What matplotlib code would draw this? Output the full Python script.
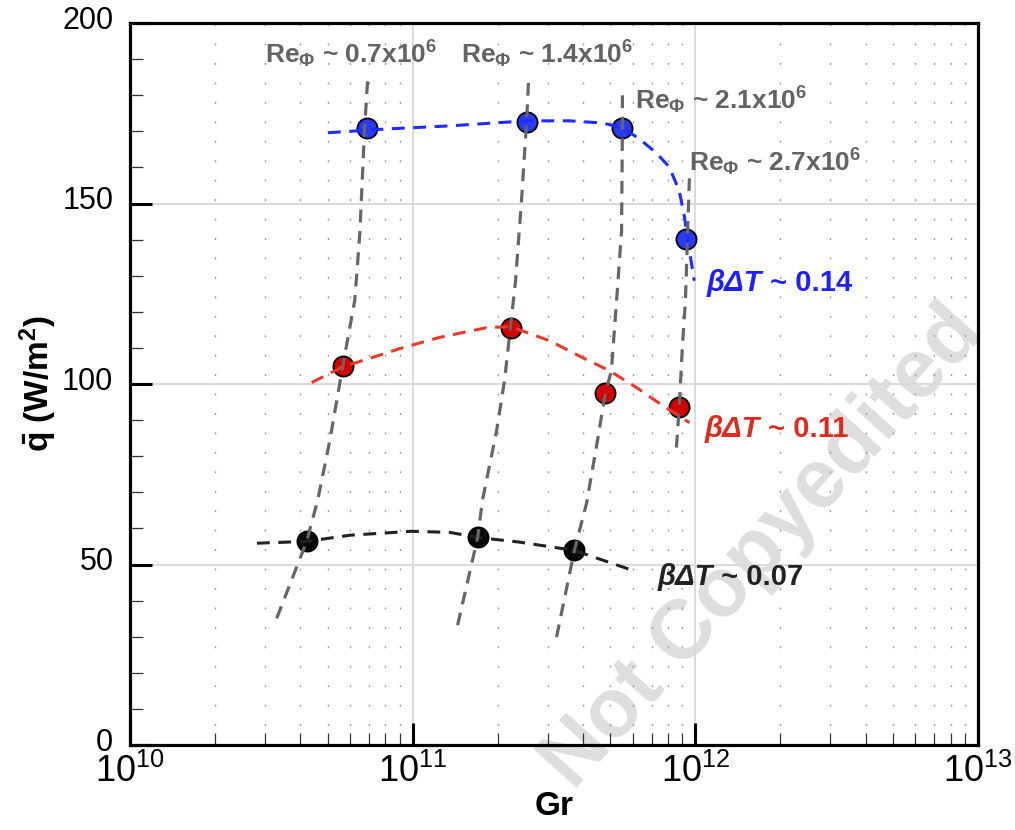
import numpy as np
import matplotlib
matplotlib.use('Agg')
import matplotlib.pyplot as plt
from matplotlib.ticker import LogLocator, MultipleLocator, FuncFormatter, NullFormatter
from matplotlib.transforms import ScaledTranslation

plt.rcParams['font.family'] = ['Liberation Sans', 'DejaVu Sans']
plt.rcParams['mathtext.fontset'] = 'custom'
plt.rcParams['mathtext.rm'] = 'Liberation Sans'
plt.rcParams['mathtext.it'] = 'Liberation Sans:italic'
plt.rcParams['mathtext.bf'] = 'Liberation Sans:bold'

# ---------------- data ----------------
# measured points (Gr, mean heat flux)
gr_blue = [6.87e10, 2.53e11, 5.52e11, 9.29e11]
q_blue = [170.9, 172.6, 171.0, 140.2]
gr_red = [5.66e10, 2.22e11, 4.81e11, 8.77e11]
q_red = [105.1, 115.6, 97.6, 93.5]
gr_black = [4.22e10, 1.70e11, 3.73e11]
q_black = [56.4, 57.5, 53.9]

# trend curves for constant beta*dT (log10 Gr, q)
fit_blue_lg = [10.700, 10.919, 11.131, 11.403, 11.555, 11.671, 11.742, 11.802,
               11.862, 11.908, 11.943, 11.962, 11.972, 11.986, 11.996]
fit_blue_q = [169.6, 170.7, 171.5, 172.9, 172.9, 172.3, 171.0, 167.9,
              164.0, 160.1, 153.5, 146.1, 140.2, 133.6, 128.6]
fit_red_lg = [10.643, 10.753, 10.848, 10.954, 11.095, 11.261, 11.346, 11.413,
              11.484, 11.601, 11.696, 11.792, 11.883, 11.979]
fit_red_q = [100.4, 104.8, 107.1, 109.8, 112.9, 115.6, 115.9, 114.0,
             112.0, 107.3, 103.7, 99.0, 94.1, 89.3]
fit_black_lg = [10.449, 10.625, 10.777, 10.996, 11.131, 11.230, 11.378, 11.572, 11.777]
fit_black_q = [55.9, 56.4, 58.1, 59.2, 58.9, 57.5, 56.2, 53.9, 48.4]

# constant Re_phi curves (log10 Gr, q)
re1_lg = [10.519, 10.625, 10.664, 10.707, 10.753, 10.795, 10.813, 10.830, 10.841]
re1_q = [35.1, 56.4, 67.8, 84.4, 105.1, 123.1, 141.6, 171.0, 184.5]
re2_lg = [11.159, 11.230, 11.247, 11.297, 11.325, 11.346, 11.364, 11.385, 11.403, 11.410]
re2_q = [33.2, 57.5, 67.8, 87.1, 101.0, 115.6, 128.6, 150.8, 172.6, 184.2]
re3_lg = [11.509, 11.572, 11.615, 11.654, 11.682, 11.703, 11.724, 11.739, 11.742, 11.742]
re3_q = [29.9, 53.9, 66.9, 84.4, 97.6, 103.7, 125.9, 142.5, 171.0, 180.4]
re4_lg = [11.933, 11.943, 11.954, 11.965, 11.972, 11.979]
re4_q = [82.4, 93.5, 110.1, 123.1, 140.2, 157.1]

re_labels = [r'Re$_{\mathregular{\Phi}}$ ~ 0.7x10$^{\mathregular{6}}$',
             r'Re$_{\mathregular{\Phi}}$ ~ 1.4x10$^{\mathregular{6}}$',
             r'Re$_{\mathregular{\Phi}}$ ~ 2.1x10$^{\mathregular{6}}$',
             r'Re$_{\mathregular{\Phi}}$ ~ 2.7x10$^{\mathregular{6}}$']
bdt_labels = ['0.14', '0.11', '0.07']

# ---------------- figure ----------------
fig = plt.figure(figsize=(10.15, 8.30), dpi=100)
ax = fig.add_axes([130/1015, 1-745/830, (978-130)/1015, (745-23)/830])
ax.set_facecolor('none')

# watermark
fig.text(0.752, 0.34, 'Not Copyedited', rotation=48, fontsize=60, color='#dedede',
         fontweight='bold', ha='center', va='center', zorder=-1)

ax.set_xscale('log')
ax.set_xlim(1e10, 1e13)
ax.set_ylim(0, 200)

ax.xaxis.set_major_locator(LogLocator(base=10, numticks=10))
ax.xaxis.set_minor_locator(LogLocator(base=10, subs=np.arange(2, 10), numticks=20))
ax.xaxis.set_minor_formatter(NullFormatter())
ax.xaxis.set_major_formatter(FuncFormatter(lambda v, p: r'$\mathregular{10^{%d}}$' % round(np.log10(v))))
ax.yaxis.set_major_locator(MultipleLocator(50))
ax.yaxis.set_minor_locator(MultipleLocator(10))

ax.tick_params(which='major', direction='in', length=16, width=2.2, color='black')
ax.tick_params(which='minor', direction='in', length=9, width=0.9, color='#333333')
ax.tick_params(axis='x', which='major', labelsize=26, pad=6)
ax.tick_params(axis='y', which='major', labelsize=22, pad=12)

for s in ax.spines.values():
    s.set_linewidth(2.3)

ax.grid(which='major', color='#dadada', linewidth=1.4, zorder=0)
ax.grid(which='minor', axis='x', color='#9a9a9a', linewidth=1.0, linestyle=(0, (1.4, 12.6)), zorder=0)
ax.set_axisbelow(True)

# markers
mk = dict(marker='o', markersize=14.5, markeredgecolor='black', markeredgewidth=1.3,
          linestyle='none', zorder=3)
ax.plot(gr_blue, q_blue, markerfacecolor='#2a3af0', **mk)
ax.plot(gr_red, q_red, markerfacecolor='#d40000', **mk)
ax.plot(gr_black, q_black, markerfacecolor='#0a0a0a', **mk)

# trend curves
ls = dict(linewidth=2.2, dashes=(4.2, 2.8), zorder=4)
ax.plot(10**np.array(fit_blue_lg), fit_blue_q, color='#1f2cff', **ls)
ax.plot(10**np.array(fit_red_lg), fit_red_q, color='#e8392a', **ls)
ax.plot(10**np.array(fit_black_lg), fit_black_q, color='#222222', **ls)

for lg, qq in [(re1_lg, re1_q), (re2_lg, re2_q), (re3_lg, re3_q), (re4_lg, re4_q)]:
    ax.plot(10**np.array(lg), qq, color='#666666', linewidth=2.3, dashes=(4.0, 2.7), zorder=5)

# Re labels
re_pos = [(3.0e10, 188.9), (1.48e11, 188.9), (6.14e11, 176.2), (9.53e11, 158.8)]
for (x, y), lab in zip(re_pos, re_labels):
    ax.text(x, y, lab, fontsize=19, fontweight='bold', color='#636363',
            ha='left', va='baseline', zorder=6)

# beta dT labels
bdt_pos = [(1.10e12, 125.9), (1.08e12, 85.2), (7.35e11, 44.3)]
bdt_col = ['#2020ff', '#e02a1e', '#222222']
for (x, y), lab, c in zip(bdt_pos, bdt_labels, bdt_col):
    t1 = ax.text(x, y, 'βΔT', fontsize=21, fontweight='bold', fontstyle='italic',
                 color=c, ha='left', va='baseline', zorder=6)
    ax.annotate(' ~ ' + lab, xy=(1, 0), xycoords=t1, fontsize=21, fontweight='bold',
                color=c, ha='left', va='bottom', zorder=6)

ax.set_xlabel('Gr', fontsize=24, fontweight='bold', labelpad=1)
ax.set_ylabel(r'$\mathregular{\bar{q}}$ (W/m$\mathregular{^2}$)', fontsize=24,
              fontweight='bold', labelpad=2)

# nudge y tick labels slightly upward (as in the reference)
fig.canvas.draw()
shift = ScaledTranslation(0, 4/72, fig.dpi_scale_trans)
for lab in ax.yaxis.get_majorticklabels():
    lab.set_transform(lab.get_transform() + shift)

fig.savefig('out.png', dpi=100)
